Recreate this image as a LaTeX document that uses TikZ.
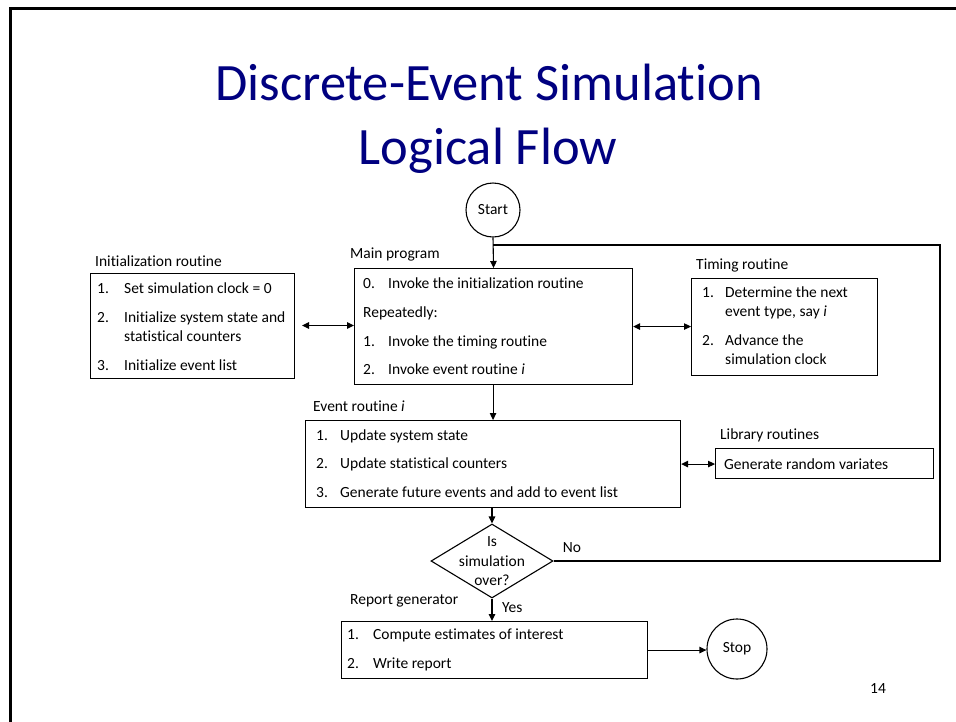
\documentclass[tikz,border=0pt]{standalone}
\usepackage{fontspec}
\setmainfont{Carlito}[Ligatures={NoCommon}]
\usetikzlibrary{arrows.meta,shapes.geometric}
\definecolor{titleblue}{RGB}{0,0,128}
\begin{document}
\begin{tikzpicture}[x=1pt,y=-1pt,
  box/.style={draw=black, line width=1.1pt, rectangle, inner sep=0pt, anchor=north west},
  txt/.style={anchor=base west, inner sep=0pt, font=\fontsize{15.5}{18}\selectfont},
  ctxt/.style={anchor=base, inner sep=0pt, font=\fontsize{15.5}{18}\selectfont},
  ttl/.style={anchor=base, inner sep=0pt, text=titleblue, font=\fontsize{52.5}{62}\selectfont},
  term/.style={circle, draw=black, line width=1.1pt, inner sep=0pt, font=\fontsize{15.5}{18}\selectfont},
  conn/.style={line width=1.1pt, -{Triangle[length=7pt,width=6.5pt]}},
  dconn/.style={line width=1.1pt, {Triangle[length=7pt,width=6.5pt]}-{Triangle[length=7pt,width=6.5pt]}},
  plain/.style={line width=1.1pt}
]
\useasboundingbox (0,0) rectangle (956,721);
\fill[white] (0,0) rectangle (956,721);
% slide frame
\draw[line width=2.6pt] (10.5,740) -- (10.5,8.5) -- (980,8.5);

% title
\node[ttl] (title1) at (489,100) {Discrete-Event Simulation};
\node[ttl] (title2) at (488,164) {Logical Flow};

% start
\node[term, minimum size=54pt] (start) at (493,210) {Start};

% boxes
\node[box, minimum width=204pt, minimum height=105pt] (initbox) at (90,273) {};
\node[box, minimum width=278pt, minimum height=116pt] (mainbox) at (354,268) {};
\node[box, minimum width=186pt, minimum height=97pt] (timbox) at (691,278) {};
\node[box, minimum width=375pt, minimum height=87pt] (evbox) at (305,420) {};
\node[box, minimum width=218pt, minimum height=30pt] (libbox) at (715,448) {};
\node[box, minimum width=306pt, minimum height=57pt] (repbox) at (341,621) {};
\node[diamond, draw=black, line width=1.1pt, inner sep=0pt, minimum width=122pt, minimum height=74pt] (dia) at (492,561) {};
\node[term, minimum size=60pt] (stop) at (737,649) {Stop};

% initialization routine
\node[txt] (initlab) at (95,266) {Initialization routine};
\node[txt] (i1n) at (97,293) {1.};
\node[txt] (i1) at (124,293) {Set simulation clock = 0};
\node[txt] (i2n) at (97,322) {2.};
\node[txt] (i2) at (124,322) {Initialize system state and};
\node[txt] (i2b) at (124,341) {statistical counters};
\node[txt] (i3n) at (97,370) {3.};
\node[txt] (i3) at (124,370) {Initialize event list};

% main program
\node[txt] (mainlab) at (350,258) {Main program};
\node[txt] (m0n) at (363,288) {0.};
\node[txt] (m0) at (388,288) {Invoke the initialization routine};
\node[txt] (mrep) at (363,317) {Repeatedly:};
\node[txt] (m1n) at (363,346) {1.};
\node[txt] (m1) at (388,346) {Invoke the timing routine};
\node[txt] (m2n) at (363,374) {2.};
\node[txt] (m2) at (388,374) {Invoke event routine \textit{i}};

% timing routine
\node[txt] (timlab) at (696,269) {Timing routine};
\node[txt] (t1n) at (702,297) {1.};
\node[txt] (t1) at (725,297) {Determine the next};
\node[txt] (t1b) at (725,316) {event type, say \textit{i}};
\node[txt] (t2n) at (702,345) {2.};
\node[txt] (t2) at (725,345) {Advance the};
\node[txt] (t2b) at (725,364) {simulation clock};

% event routine
\node[txt] (evlab) at (313,411) {Event routine \textit{i}};
\node[txt] (e1n) at (316,440) {1.};
\node[txt] (e1) at (340,440) {Update system state};
\node[txt] (e2n) at (316,468) {2.};
\node[txt] (e2) at (340,468) {Update statistical counters};
\node[txt] (e3n) at (316,497) {3.};
\node[txt] (e3) at (340,497) {Generate future events and add to event list};

% library routines
\node[txt] (liblab) at (720,439) {Library routines};
\node[txt] (lib1) at (724,469) {Generate random variates};

% decision
\node[ctxt] (d1) at (492,546) {Is};
\node[ctxt] (d2) at (492,566) {simulation};
\node[ctxt] (d3) at (492,585) {over?};
\node[ctxt] (no) at (572,552) {No};
\node[txt] (yes) at (502,612) {Yes};

% report generator
\node[txt] (replab) at (350,604) {Report generator};
\node[txt] (r1n) at (347,639) {1.};
\node[txt] (r1) at (373,639) {Compute estimates of interest};
\node[txt] (r2n) at (347,668) {2.};
\node[txt] (r2) at (373,668) {Write report};

% page number
\node[ctxt] (pnum) at (878,693) {14};

% connectors
\coordinate (join) at (493,245);
\coordinate (fbr) at (940,245);
\coordinate (initr) at (302,325.5);
\draw[conn] (start.south) -- (mainbox.north);
\draw[plain] (dia.east) -- (dia.east -| fbr) -- (fbr) -- (join);
\draw[dconn] (initr) -- (initr -| mainbox.west);
\draw[dconn] (mainbox.east) -- (mainbox.east -| timbox.west);
\draw[conn] (mainbox.south -| evbox.north) -- (evbox.north);
\draw[dconn] (evbox.east) -- (evbox.east -| libbox.west);
\draw[conn] (evbox.south -| dia.north) -- (dia.north);
\draw[conn] (dia.south) -- (dia.south |- repbox.north);
\draw[conn] (repbox.east) -- (repbox.east -| stop.west);
\end{tikzpicture}
\end{document}
